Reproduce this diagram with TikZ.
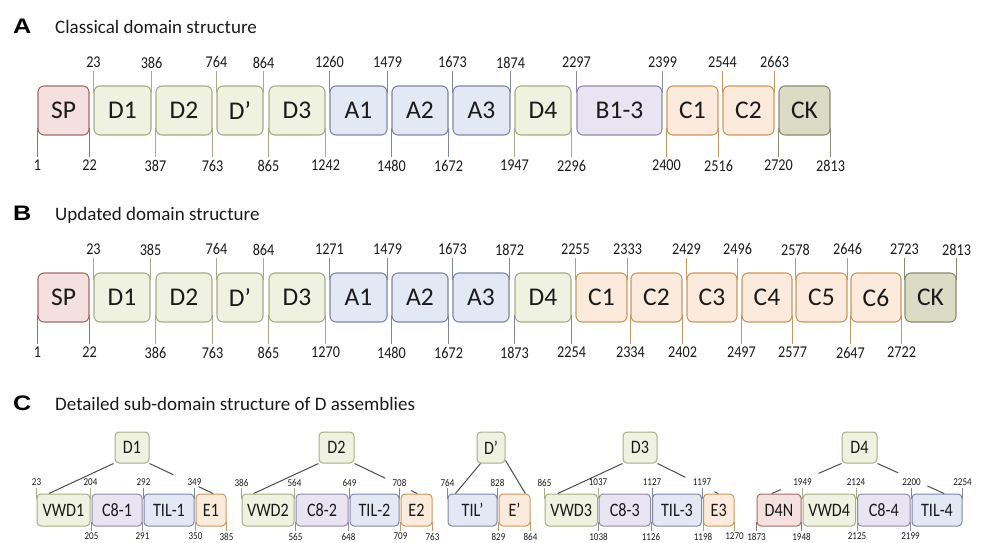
\documentclass[tikz,border=0pt]{standalone}
\usepackage{fontspec}
\setmainfont{Carlito}
\newfontfamily\numfont[FakeStretch=0.86]{Carlito}
\newfontfamily\cfont[FakeStretch=0.85]{Carlito}
\newfontfamily\panelfont[FakeStretch=1.2]{Liberation Sans}
\usetikzlibrary{calc}
\definecolor{txt}{HTML}{1A1A1A}
\definecolor{spF}{HTML}{F3E0DF}\definecolor{spB}{HTML}{A36B6B}
\definecolor{dF}{HTML}{EFF2E1}\definecolor{dB}{HTML}{A3AD86}
\definecolor{aF}{HTML}{E3E8F5}\definecolor{aB}{HTML}{7E86A3}
\definecolor{bF}{HTML}{E8E4F1}\definecolor{bB}{HTML}{8F89A9}
\definecolor{cF}{HTML}{FCEBDC}\definecolor{cB}{HTML}{C99660}
\definecolor{kF}{HTML}{DCDBC6}\definecolor{kB}{HTML}{8C8B72}
\definecolor{conn}{HTML}{4D4D4D}
\newcommand\bx[7]{\node[#1,minimum width={(#4-#3)*1pt},minimum height={(#6-#5)*1pt}] (#2) at ({(#3+#4)/2},{(#5+#6)/2}) {#7};}
\newcommand\tA[4]{\node[num] (#1) at ([yshift=23pt]#2) {#3};\draw[tick,draw=#4] (#1.south) -- ([yshift=-8pt]#2);}
\newcommand\bA[4]{\node[num] (#1) at ([yshift=-30pt]#2) {#3};\draw[tick,draw=#4] ([yshift=8pt]#2) -- (#1.north);}
\newcommand\tC[4]{\node[snum] (#1) at ([yshift=11pt]#2) {#3};\draw[tick,draw=#4] (#1.south) -- ([yshift=-5pt]#2);}
\newcommand\bC[4]{\node[snum] (#1) at ([yshift=-10pt]#2) {#3};\draw[tick,draw=#4] ([yshift=5pt]#2) -- (#1.north);}
\begin{document}
\begin{tikzpicture}[x=1pt,y=-1pt,
  big/.style={rounded corners=6pt,line width=1.1pt,inner sep=0pt,text=txt,font=\fontsize{25.5}{25.5}\selectfont},
  small/.style={rounded corners=4pt,line width=1pt,inner sep=0pt,text=txt,font=\cfont\fontsize{19}{19}\selectfont},
  cSP/.style={draw=spB,fill=spF},
  cD/.style={draw=dB,fill=dF},
  cA/.style={draw=aB,fill=aF},
  cB/.style={draw=bB,fill=bF},
  cC/.style={draw=cB,fill=cF},
  cK/.style={draw=kB,fill=kF},
  num/.style={inner xsep=0pt,inner ysep=3pt,text=txt,font=\numfont\fontsize{16.5}{16.5}\selectfont},
  snum/.style={inner xsep=0pt,inner ysep=1.5pt,text=txt,font=\numfont\fontsize{10.5}{10.5}\selectfont},
  tick/.style={line width=0.9pt},
  cn/.style={draw=conn,line width=1pt},
  title/.style={anchor=base west,inner sep=0pt,text=txt,font=\fontsize{19}{19}\selectfont},
  panel/.style={anchor=base west,inner sep=0pt,text=black,font=\panelfont\bfseries\fontsize{21}{21}\selectfont}]
\useasboundingbox (0,0) rectangle (983,542);
% titles
\node[panel] (pA) at (13,33) {A};
\node[title] (ttA) at (55,33) {Classical domain structure};
\node[panel] (pB) at (13,220) {B};
\node[title] (ttB) at (55,220) {Updated domain structure};
\node[panel] (pC) at (13,410) {C};
\node[title] (ttC) at (55,410) {Detailed sub-domain structure of D assemblies};
% ---------- row A
\bx{big,cSP}{SPA}{38}{89}{86}{135}{SP}
\bx{big,cD}{D1A}{94}{151}{86}{135}{D1}
\bx{big,cD}{D2A}{156}{212}{86}{135}{D2}
\bx{big,cD}{DpA}{217}{263}{86}{135}{D’}
\bx{big,cD}{D3A}{269}{325}{86}{135}{D3}
\bx{big,cA}{A1A}{330}{387}{86}{135}{A1}
\bx{big,cA}{A2A}{392}{448}{86}{135}{A2}
\bx{big,cA}{A3A}{453}{510}{86}{135}{A3}
\bx{big,cD}{D4A}{515}{571}{86}{135}{D4}
\bx{big,cB}{B13A}{577}{662}{86}{135}{B1-3}
\bx{big,cC}{C1A}{667}{718}{86}{135}{C1}
\bx{big,cC}{C2A}{723}{774}{86}{135}{C2}
\bx{big,cK}{CKA}{779}{830}{86}{135}{CK}
\tA{tA23}{D1A.north west}{23}{dB}
\tA{tA386}{D1A.north east}{386}{dB}
\tA{tA764}{DpA.north west}{764}{dB}
\tA{tA864}{DpA.north east}{864}{dB}
\tA{tA1260}{A1A.north west}{1260}{aB}
\tA{tA1479}{A1A.north east}{1479}{aB}
\tA{tA1673}{A3A.north west}{1673}{aB}
\tA{tA1874}{A3A.north east}{1874}{aB}
\tA{tA2297}{B13A.north west}{2297}{bB}
\tA{tA2399}{B13A.north east}{2399}{bB}
\tA{tA2544}{C2A.north west}{2544}{cB}
\tA{tA2663}{C2A.north east}{2663}{cB}
\bA{bA1}{SPA.south west}{1}{spB}
\bA{bA22}{SPA.south east}{22}{spB}
\bA{bA387}{D2A.south west}{387}{dB}
\bA{bA763}{D2A.south east}{763}{dB}
\bA{bA865}{D3A.south west}{865}{dB}
\bA{bA1242}{D3A.south east}{1242}{dB}
\bA{bA1480}{A2A.south west}{1480}{aB}
\bA{bA1672}{A2A.south east}{1672}{aB}
\bA{bA1947}{D4A.south west}{1947}{dB}
\bA{bA2296}{D4A.south east}{2296}{dB}
\bA{bA2400}{C1A.south west}{2400}{cB}
\bA{bA2516}{C1A.south east}{2516}{cB}
\bA{bA2720}{CKA.south west}{2720}{kB}
\bA{bA2813}{CKA.south east}{2813}{kB}
% ---------- row B
\bx{big,cSP}{SPB}{38}{89}{273}{322}{SP}
\bx{big,cD}{D1B}{94}{150}{273}{322}{D1}
\bx{big,cD}{D2B}{156}{212}{273}{322}{D2}
\bx{big,cD}{DpB}{217}{263}{273}{322}{D’}
\bx{big,cD}{D3B}{269}{325}{273}{322}{D3}
\bx{big,cA}{A1B}{330}{387}{273}{322}{A1}
\bx{big,cA}{A2B}{392}{448}{273}{322}{A2}
\bx{big,cA}{A3B}{453}{509}{273}{322}{A3}
\bx{big,cD}{D4B}{515}{571}{273}{322}{D4}
\bx{big,cC}{C1B}{576}{627}{273}{322}{C1}
\bx{big,cC}{C2B}{631}{682}{273}{322}{C2}
\bx{big,cC}{C3B}{687}{737}{273}{322}{C3}
\bx{big,cC}{C4B}{742}{792}{273}{322}{C4}
\bx{big,cC}{C5B}{796}{847}{273}{322}{C5}
\bx{big,cC}{C6B}{851}{901}{273}{322}{C6}
\bx{big,cK}{CKB}{905}{956}{273}{322}{CK}
\tA{tB23}{D1B.north west}{23}{dB}
\tA{tB385}{D1B.north east}{385}{dB}
\tA{tB764}{DpB.north west}{764}{dB}
\tA{tB864}{DpB.north east}{864}{dB}
\tA{tB1271}{A1B.north west}{1271}{aB}
\tA{tB1479}{A1B.north east}{1479}{aB}
\tA{tB1673}{A3B.north west}{1673}{aB}
\tA{tB1872}{A3B.north east}{1872}{aB}
\tA{tB2255}{C1B.north west}{2255}{cB}
\tA{tB2333}{C1B.north east}{2333}{cB}
\tA{tB2429}{C3B.north west}{2429}{cB}
\tA{tB2496}{C3B.north east}{2496}{cB}
\tA{tB2578}{C5B.north west}{2578}{cB}
\tA{tB2646}{C5B.north east}{2646}{cB}
\tA{tB2723}{CKB.north west}{2723}{kB}
\tA{tB2813}{CKB.north east}{2813}{kB}
\bA{bB1}{SPB.south west}{1}{spB}
\bA{bB22}{SPB.south east}{22}{spB}
\bA{bB386}{D2B.south west}{386}{dB}
\bA{bB763}{D2B.south east}{763}{dB}
\bA{bB865}{D3B.south west}{865}{dB}
\bA{bB1270}{D3B.south east}{1270}{dB}
\bA{bB1480}{A2B.south west}{1480}{aB}
\bA{bB1672}{A2B.south east}{1672}{aB}
\bA{bB1873}{D4B.south west}{1873}{aB}
\bA{bB2254}{D4B.south east}{2254}{aB}
\bA{bB2334}{C2B.south west}{2334}{cB}
\bA{bB2402}{C2B.south east}{2402}{cB}
\bA{bB2497}{C4B.south west}{2497}{cB}
\bA{bB2577}{C4B.south east}{2577}{cB}
\bA{bB2647}{C6B.south west}{2647}{cB}
\bA{bB2722}{C6B.south east}{2722}{cB}
% ---------- row C
\bx{small,cD}{PD1}{115}{149}{432}{463}{D1}
\bx{small,cD}{PD2}{319}{354}{432}{463}{D2}
\bx{small,cD}{PDp}{477}{505}{432}{463}{D’}
\bx{small,cD}{PD3}{623}{657}{432}{463}{D3}
\bx{small,cD}{PD4}{842}{877}{432}{463}{D4}
\bx{small,cD}{VWD1}{37}{90}{494}{526}{VWD1}
\bx{small,cB}{C81}{92}{142}{494}{526}{C8-1}
\bx{small,cA}{TIL1}{144}{194}{494}{526}{TIL-1}
\bx{small,cC}{E1}{196}{226}{494}{526}{E1}
\bx{small,cD}{VWD2}{242}{294}{494}{526}{VWD2}
\bx{small,cB}{C82}{296}{348}{494}{526}{C8-2}
\bx{small,cA}{TIL2}{350}{399}{494}{526}{TIL-2}
\bx{small,cC}{E2}{401}{432}{494}{526}{E2}
\bx{small,cA}{TILp}{448}{497}{494}{526}{TIL’}
\bx{small,cC}{Ep}{499}{530}{494}{526}{E’}
\bx{small,cD}{VWD3}{545}{597.5}{494}{526}{VWD3}
\bx{small,cB}{C83}{599}{650.5}{494}{526}{C8-3}
\bx{small,cA}{TIL3}{652.5}{701.5}{494}{526}{TIL-3}
\bx{small,cC}{E3}{703.5}{734}{494}{526}{E3}
\bx{small,cSP}{D4N}{757}{801}{494}{526}{D4N}
\bx{small,cD}{VWD4}{803}{855.5}{494}{526}{VWD4}
\bx{small,cB}{C84}{857.5}{910}{494}{526}{C8-4}
\bx{small,cA}{TIL4}{912}{962}{494}{526}{TIL-4}
% ticks row C
\tC{tC23}{VWD1.north west}{23}{dB}
\tC{tC204}{VWD1.north east}{204}{dB}
\tC{tC292}{TIL1.north west}{292}{aB}
\tC{tC349}{TIL1.north east}{349}{aB}
\bC{bC205}{C81.south west}{205}{bB}
\bC{bC291}{C81.south east}{291}{bB}
\bC{bC350}{E1.south west}{350}{cB}
\bC{bC385}{E1.south east}{385}{cB}
\tC{tC386}{VWD2.north west}{386}{dB}
\tC{tC564}{VWD2.north east}{564}{dB}
\tC{tC649}{TIL2.north west}{649}{aB}
\tC{tC708}{TIL2.north east}{708}{aB}
\bC{bC565}{C82.south west}{565}{bB}
\bC{bC648}{C82.south east}{648}{bB}
\bC{bC709}{E2.south west}{709}{cB}
\bC{bC763}{E2.south east}{763}{cB}
\tC{tC764}{TILp.north west}{764}{aB}
\tC{tC828}{TILp.north east}{828}{aB}
\bC{bC829}{Ep.south west}{829}{cB}
\bC{bC864}{Ep.south east}{864}{cB}
\tC{tC865}{VWD3.north west}{865}{dB}
\tC{tC1037}{VWD3.north east}{1037}{dB}
\tC{tC1127}{TIL3.north west}{1127}{aB}
\tC{tC1197}{TIL3.north east}{1197}{aB}
\bC{bC1038}{C83.south west}{1038}{bB}
\bC{bC1126}{C83.south east}{1126}{bB}
\bC{bC1198}{E3.south west}{1198}{cB}
\bC{bC1270}{E3.south east}{1270}{cB}
\tC{tC1949}{VWD4.north west}{1949}{dB}
\tC{tC2124}{VWD4.north east}{2124}{dB}
\tC{tC2200}{TIL4.north west}{2200}{aB}
\tC{tC2254}{TIL4.north east}{2254}{aB}
\bC{bC1873}{D4N.south west}{1873}{spB}
\bC{bC1948}{D4N.south east}{1948}{spB}
\bC{bC2125}{C84.south west}{2125}{bB}
\bC{bC2199}{C84.south east}{2199}{bB}
% connector end points
\coordinate (v1t) at ($(VWD1.north west)!0.23!(VWD1.north east)$);
\coordinate (e1t) at ($(E1.north west)!0.57!(E1.north east)$);
\coordinate (v2t) at ($(VWD2.north west)!0.23!(VWD2.north east)$);
\coordinate (e2t) at ($(E2.north west)!0.52!(E2.north east)$);
\coordinate (tpt) at ($(TILp.north west)!0.16!(TILp.north east)$);
\coordinate (ept) at ($(Ep.north west)!0.84!(Ep.north east)$);
\coordinate (v3t) at ($(VWD3.north west)!0.25!(VWD3.north east)$);
\coordinate (e3t) at ($(E3.north west)!0.48!(E3.north east)$);
\coordinate (d4t) at ($(D4N.north west)!0.34!(D4N.north east)$);
\coordinate (t4t) at ($(TIL4.north west)!0.64!(TIL4.north east)$);
\coordinate (p1l) at ([xshift=-1pt]PD1.south west);
\coordinate (p1r) at (PD1.south east);
\coordinate (p2l) at (PD2.south west);
\coordinate (p2r) at (PD2.south east);
\coordinate (ppl) at ([xshift=4pt]PDp.south west);
\coordinate (ppr) at ([yshift=3pt]PDp.south east);
\coordinate (p3l) at (PD3.south west);
\coordinate (p3r) at (PD3.south east);
\coordinate (p4l) at (PD4.south west);
\coordinate (p4r) at (PD4.south east);
\draw[cn] (p1l) -- (v1t);
\draw[cn] (p1r) -- ($(p1r)!0.375!(e1t)$) ($(p1r)!0.77!(e1t)$) -- (e1t);
\draw[cn] (p2l) -- (v2t);
\draw[cn] (p2r) -- ($(p2r)!0.49!(e2t)$) ($(p2r)!0.9!(e2t)$) -- (e2t);
\draw[cn] (ppl) -- (tpt);
\draw[cn] (ppr) -- (ept);
\draw[cn] (p3l) -- (v3t);
\draw[cn] (p3r) -- ($(p3r)!0.46!(e3t)$) ($(p3r)!0.94!(e3t)$) -- (e3t);
\draw[cn] (p4l) -- ($(p4l)!0.33!(d4t)$) ($(p4l)!0.87!(d4t)$) -- (d4t);
\draw[cn] (p4r) -- ($(p4r)!0.31!(t4t)$) ($(p4r)!0.75!(t4t)$) -- (t4t);
\end{tikzpicture}
\end{document}
